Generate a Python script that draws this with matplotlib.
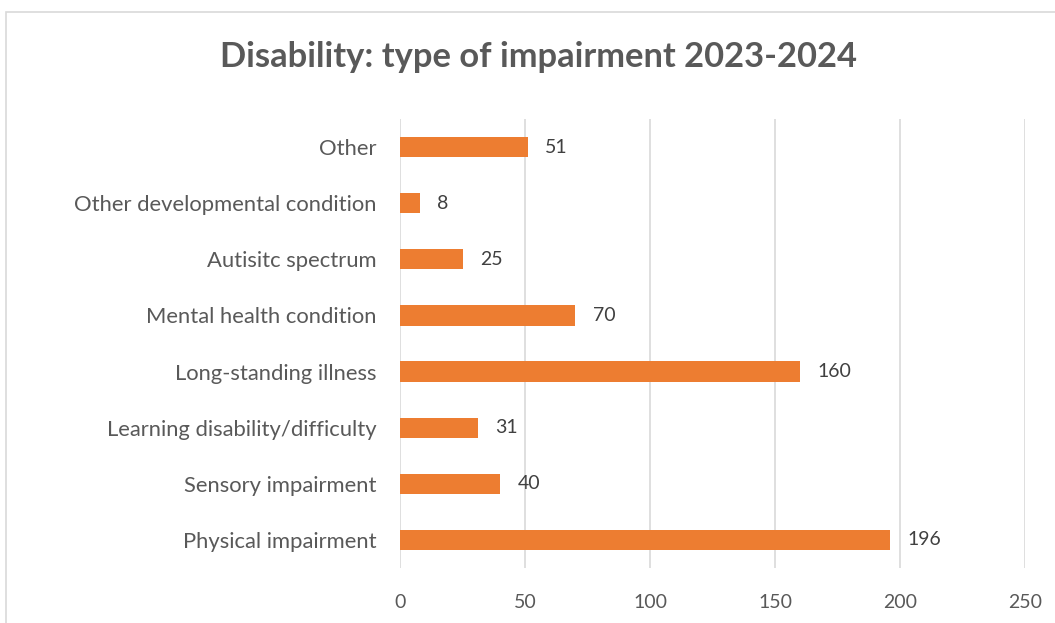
import matplotlib.pyplot as plt
from matplotlib.patches import Rectangle

# impairment categories, bottom to top
categories = [
    "Physical impairment",
    "Sensory impairment",
    "Learning disability/difficulty",
    "Long-standing illness",
    "Mental health condition",
    "Autisitc spectrum",
    "Other developmental condition",
    "Other",
]
counts = [196, 40, 31, 160, 70, 25, 8, 51]
x_ticks = [0, 50, 100, 150, 200, 250]

plt.rcParams['font.family'] = ['Lato', 'DejaVu Sans']

fig = plt.figure(figsize=(10.55, 6.23), dpi=100)

# chart frame (cropped on the right and bottom)
fig.patches.append(Rectangle((6 / 1055, -0.1), 1.2, 1 - 12 / 623 + 0.1,
                             transform=fig.transFigure, fill=False,
                             edgecolor='#d9d9d9', linewidth=1.2))

ax = fig.add_axes([400 / 1055, 1 - 568 / 623, 625 / 1055, 449 / 623])

y = range(len(categories))
ax.barh(y, counts, height=0.36, color='#ed7d31', zorder=3)
for yi, v in zip(y, counts):
    ax.text(v + 7, yi, str(v), va='center', ha='left', fontsize=14, color='#404040')

ax.set_xlim(0, 250)
ax.set_ylim(-0.5, len(categories) - 0.5)
ax.set_xticks(x_ticks)
ax.set_yticks(list(y))
ax.set_yticklabels(categories, fontsize=15.8)
ax.tick_params(axis='both', length=0, labelcolor='#595959')
ax.tick_params(axis='x', labelsize=14, pad=19)
ax.tick_params(axis='y', pad=17)
ax.grid(axis='x', color='#d9d9d9', linewidth=1.2, zorder=0)
for s in ax.spines.values():
    s.set_visible(False)

fig.text(538 / 1055, 1 - 57 / 623, "Disability: type of impairment 2023-2024",
         ha='center', va='center', fontsize=24.8, fontweight='bold', color='#595959')

fig.savefig('out.png', dpi=100)
